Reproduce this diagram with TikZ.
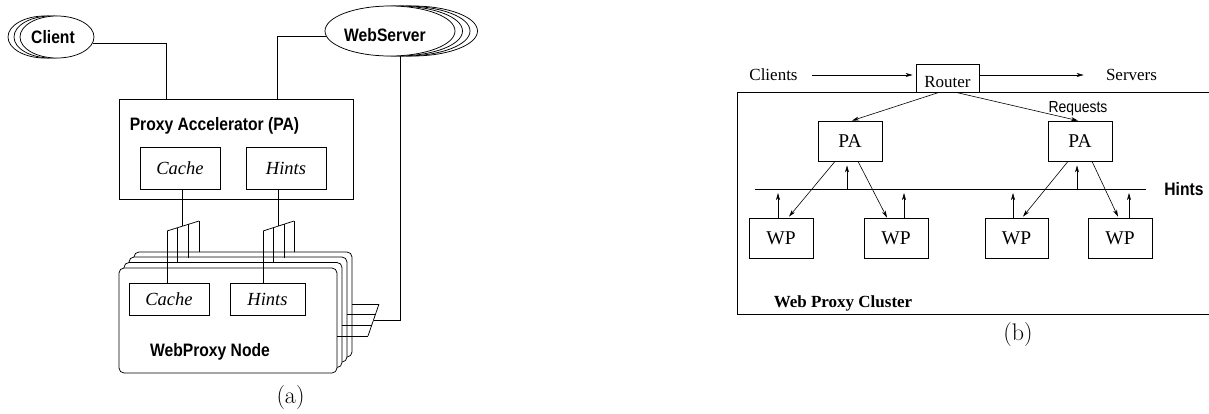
\documentclass[tikz,border=0pt]{standalone}
\usepackage{fontspec}
\setmainfont{Liberation Serif}
\newfontfamily\hv[FakeStretch=0.87]{Liberation Sans}
\newfontfamily\lmr{Latin Modern Roman}
\usetikzlibrary{shapes.geometric,arrows.meta}
\begin{document}
\begin{tikzpicture}[x=1pt,y=-1pt,line width=0.75pt,
  sansb/.style={font=\hv\bfseries\fontsize{18}{20}\selectfont, inner sep=0pt},
  sansr/.style={font=\hv\fontsize{16}{18}\selectfont, inner sep=0pt},
  serif/.style={font=\fontsize{17}{19}\selectfont, inner sep=0pt},
  ital/.style={font=\itshape\fontsize{18.5}{20}\selectfont},
  box/.style={draw, fill=white, inner sep=0pt},
  ell/.style={draw, fill=white, ellipse, inner sep=0pt},
  rbox/.style={draw, fill=white, rounded corners=5pt, inner sep=0pt, minimum width=218, minimum height=105},
  arr/.style={-{Stealth[length=7pt,width=4pt,inset=2pt]}, line width=0.6pt},
  caplab/.style={font=\lmr\fontsize{24}{27}\selectfont, inner sep=0pt}]
\useasboundingbox (0,0) rectangle (1209,413);

% ---------------- panel (a) ----------------
% Client stack
\node[ell, minimum width=74, minimum height=42] (cl2) at (45,37) {};
\node[ell, minimum width=74, minimum height=42] (cl1) at (51,37) {};
\node[ell, minimum width=74, minimum height=42] (cl) at (57,37) {};
\node[sansb] (cltext) at (53,37) {Client};
% WebServer stack
\node[ell, minimum width=130, minimum height=50] (ws3) at (412.5,31) {};
\node[ell, minimum width=130, minimum height=50] (ws2) at (405,31) {};
\node[ell, minimum width=130, minimum height=50] (ws1) at (397.5,31) {};
\node[ell, minimum width=130, minimum height=50] (ws) at (390,31) {};
\node[sansb] (wstext) at (385,35) {WebServer};

% PA box
\node[box, minimum width=234, minimum height=100] (pa) at (236,149) {};
\node[sansb] (patext) at (214.5,126) {Proxy Accelerator (PA)};
\node[box, ital, minimum width=80, minimum height=42] (pacache) at (180,168) {Cache};
\node[box, ital, minimum width=80, minimum height=42] (pahints) at (286,168) {Hints};

\draw (cl.-10) -| ([xshift=48]pa.north west);
\draw (ws.185) -| ([xshift=159]pa.north west);

% WebProxy node stack
\node[rbox] (n3) at (243,304.5) {};
\node[rbox] (n2) at (238,309.5) {};
\node[rbox] (n1) at (233,315) {};
\node[rbox] (n0) at (228,320.5) {};
\node[box, ital, minimum width=80, minimum height=32] (ncache) at (169,299) {Cache};
\node[box, ital, minimum width=75, minimum height=32] (nhints) at (267.5,299) {Hints};
\node[sansb] (ntext) at (210,352) {WebProxy Node};

% cache bus
\coordinate (cb0) at (167,231);
\coordinate (cb3) at (199,221);
\draw (cb0) -- (cb3);
\draw (pacache.south -| 182,0) -- (182,226.3);
\draw (cb0) -- (cb0 |- ncache.north);
\draw (177,227.9) -- (177,263);
\draw (188,224.4) -- (188,257.5);
\draw (cb3) -- (199,252);
% hints bus
\coordinate (hb0) at (263,231);
\coordinate (hb3) at (294,221);
\draw (hb0) -- (hb3);
\draw (pahints.south -| 278,0) -- (278,226.2);
\draw (hb0) -- (hb0 |- nhints.north);
\draw (273,227.8) -- (273,263);
\draw (284,224.2) -- (284,257.5);
\draw (hb3) -- (294,252);
% server bus
\coordinate (sb0) at (379,304);
\coordinate (sb3) at (368,336);
\draw (sb0) -- (sb3);
\draw (n3.east |- sb0) -- (sb0);
\draw (n2.east |- 0,314.5) -- (375.6,314.5);
\draw (n1.east |- 0,325) -- (371.8,325);
\draw (n0.east |- sb3) -- (sb3);
\draw ([xshift=10]ws.south) -- (400,320) -- (373.5,320);

\node[caplab] (capa) at (290.5,397.5) {(a)};

% ---------------- panel (b) ----------------
\node[draw, minimum width=478, minimum height=222, inner sep=0pt] (cluster) at (976,203) {};
\node[box, serif, minimum width=63, minimum height=28, text height=18pt, text depth=0pt] (router) at (947.5,78) {Router};
\node[serif] (clients) at (773.5,75) {Clients};
\node[serif] (servers) at (1131.5,75) {Servers};
\draw[arr] ([xshift=14]clients.east) -- ([yshift=3,xshift=-3]router.west);
\draw[arr] ([yshift=3]router.east) -- ([xshift=-22]servers.west);

\node[sansr] (req) at (1078,109) {Requests};

\node[box, font=\fontsize{19.5}{21}\selectfont, minimum width=64, minimum height=40] (pa1) at (850,141) {PA};
\node[box, font=\fontsize{19.5}{21}\selectfont, minimum width=64, minimum height=40] (pa2) at (1080,141) {PA};

\node[sansb] (hints) at (1184,189) {Hints};
\coordinate (hl) at (755,189);
\coordinate (hr) at (1146,189);
\draw (hl) -- (hr);

\node[box, font=\fontsize{19.5}{21}\selectfont, minimum width=64, minimum height=40] (wp1) at (781,238) {WP};
\node[box, font=\fontsize{19.5}{21}\selectfont, minimum width=64, minimum height=40] (wp2) at (896,238) {WP};
\node[box, font=\fontsize{19.5}{21}\selectfont, minimum width=63, minimum height=40] (wp3) at (1016.5,238) {WP};
\node[box, font=\fontsize{19.5}{21}\selectfont, minimum width=64, minimum height=40] (wp4) at (1120,238) {WP};

\draw[arr] ([xshift=-8.5]router.south) -- ([xshift=2]pa1.north);
\draw[arr] ([xshift=8.5]router.south) -- ([xshift=-2]pa2.north);

\draw[arr] ([xshift=-3]pa1.south |- hl) -- ([xshift=-3,yshift=-4]pa1.south);
\draw[arr] ([xshift=-3]pa2.south |- hl) -- ([xshift=-3,yshift=-4]pa2.south);

\draw[arr] ([xshift=-3]wp1.north) -- ([xshift=-3,yshift=-4]wp1.north |- hl);
\draw[arr] ([xshift=8]wp2.north) -- ([xshift=8,yshift=-4]wp2.north |- hl);
\draw[arr] ([xshift=-3.5]wp3.north) -- ([xshift=-3.5,yshift=-4]wp3.north |- hl);
\draw[arr] ([xshift=9]wp4.north) -- ([xshift=9,yshift=-4]wp4.north |- hl);

\draw[arr] ([xshift=-15]pa1.south) -- ([xshift=8,yshift=1]wp1.north);
\draw[arr] ([xshift=8]pa1.south) -- ([xshift=-9,yshift=0]wp2.north);
\draw[arr] ([xshift=-12]pa2.south) -- ([xshift=6.5,yshift=1]wp3.north);
\draw[arr] ([xshift=12]pa2.south) -- ([xshift=-2,yshift=1]wp4.north);

\node[font=\bfseries\fontsize{17}{19}\selectfont, inner sep=0pt] (clname) at (843,303) {Web Proxy Cluster};
\node[caplab] (capb) at (1018,335) {(b)};
\end{tikzpicture}
\end{document}
